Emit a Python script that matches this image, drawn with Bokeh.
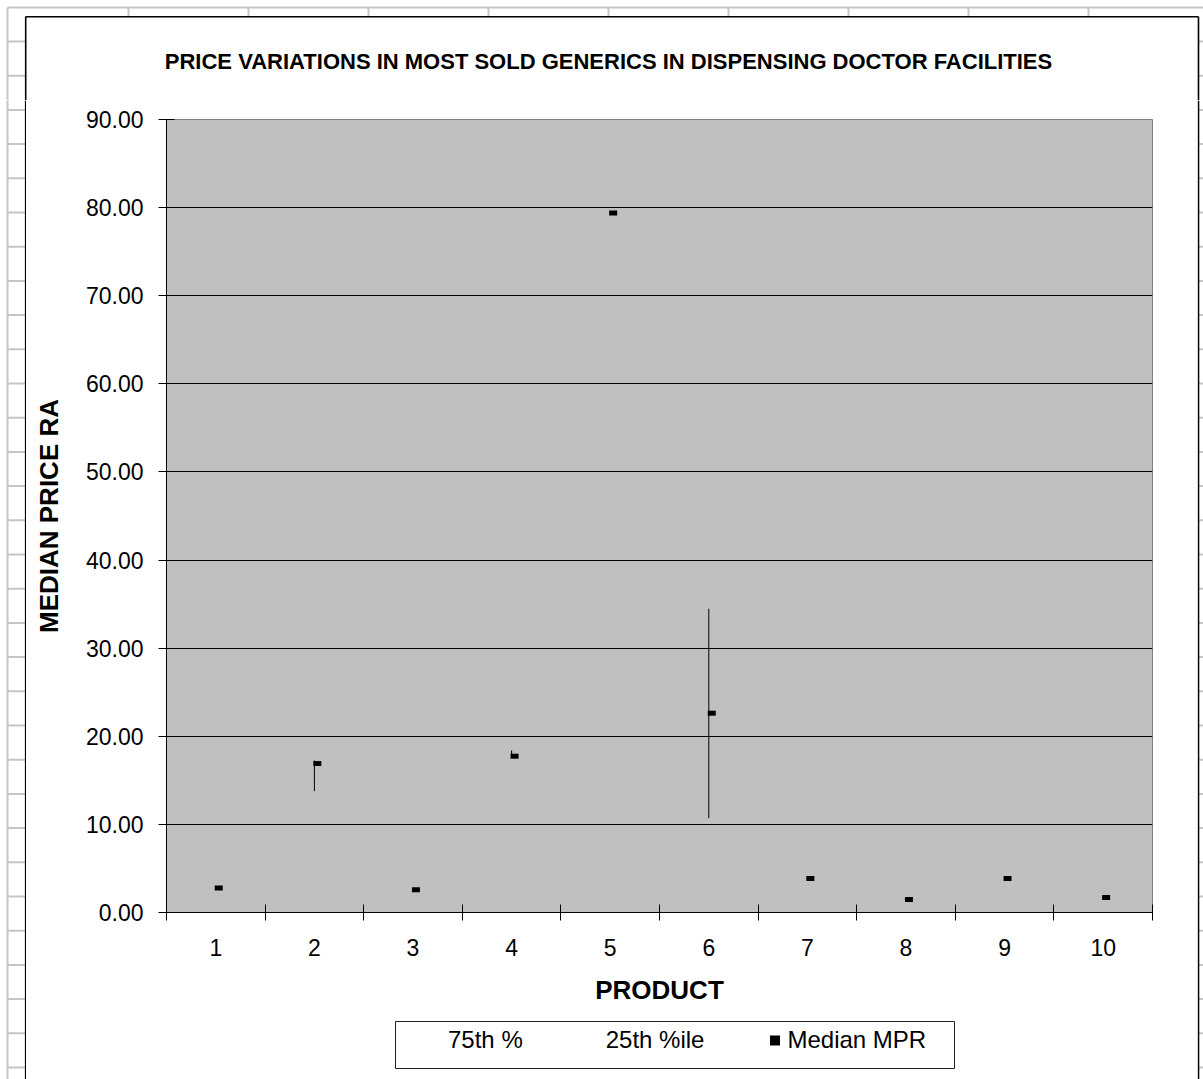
from bokeh.plotting import figure
from bokeh.layouts import column, row
from bokeh.models import (Range1d, FixedTicker, NumeralTickFormatter, Legend, LegendItem,
                          ColumnDataSource, Plot, Label)
from bokeh.transform import dodge
from bokeh.embed import file_html
from bokeh.resources import INLINE

# ---- data ----
products = ["1", "2", "3", "4", "5", "6", "7", "8", "9", "10"]
x_pos = [1, 2, 3, 4, 5, 6, 7, 8, 9, 10]
median_mpr = [2.78, 16.90, 2.58, 17.74, 79.40, 22.62, 3.86, 1.48, 3.86, 1.70]
pct75 = [2.90, 17.25, 2.65, 18.39, 79.50, 34.47, 3.95, 1.55, 3.95, 1.78]
pct25 = [2.70, 13.77, 2.50, 17.74, 79.30, 10.70, 3.78, 1.42, 3.78, 1.62]
y_ticks = [0, 10, 20, 30, 40, 50, 60, 70, 80, 90]
series_names = ["75th %", "25th %ile", "Median MPR"]

TITLE = "PRICE VARIATIONS IN MOST SOLD GENERICS IN DISPENSING DOCTOR FACILITIES"
FONT = "Liberation Sans"

W, H = 1203, 1079
TOP_H = 100         # strip above the plot figure (holds the chart title)
LEFT_W = 26         # strip left of the chart
RIGHT_W = 6         # strip right of the chart
MAIN_BOTTOM = 1015  # page y where the plot figure ends and the legend strip starts
MW = W - LEFT_W - RIGHT_W
MH = MAIN_BOTTOM - TOP_H
LH = H - MAIN_BOTTOM
FL, FR, FT, FB = 166, 1152, 119, 912   # plot-area edges on the page

HAS_FA = "frame_align" in Plot.properties()

def no_align(f):
    if HAS_FA:
        f.frame_align = False
    return f

src = ColumnDataSource(dict(x=x_pos, med=median_mpr, hi=pct75, lo=pct25))

p = figure(width=MW, height=MH, output_backend="svg", toolbar_location=None,
           x_range=Range1d(0.5, 10.5), y_range=Range1d(0, 90),
           min_border_left=FL - LEFT_W, min_border_right=(W - RIGHT_W) - FR,
           min_border_top=FT - TOP_H, min_border_bottom=MAIN_BOTTOM - FB)
no_align(p)

p.background_fill_color = "#C0C0C0"
p.border_fill_color = "white"
p.outline_line_color = "#808080"
p.outline_line_width = 1

# grid
p.xgrid.visible = False
p.ygrid.ticker = FixedTicker(ticks=y_ticks)
p.ygrid.grid_line_color = "black"
p.ygrid.grid_line_width = 1

# y axis
ya = p.yaxis[0]
ya.ticker = FixedTicker(ticks=y_ticks)
ya.formatter = NumeralTickFormatter(format="0.00")
ya.major_tick_in = 8
ya.major_tick_out = 8
ya.minor_tick_line_color = None
ya.axis_line_color = "black"
ya.major_tick_line_color = "black"
ya.major_label_standoff = 15
ya.major_label_text_font = FONT
ya.major_label_text_font_size = "23px"
ya.major_label_text_color = "black"
ya.axis_label = "MEDIAN PRICE RA"
ya.axis_label_text_font = FONT
ya.axis_label_text_font_size = "26px"
ya.axis_label_text_font_style = "bold"
ya.axis_label_text_color = "black"
ya.axis_label_standoff = 19

# x axis: labels at product centres, ticks at category boundaries
bounds = [i + 0.5 for i in range(0, 11)]
xa = p.xaxis[0]
xa.ticker = FixedTicker(ticks=x_pos, minor_ticks=bounds)
xa.major_label_overrides = {x: lab for x, lab in zip(x_pos, products)}
xa.major_tick_in = 0
xa.major_tick_out = 0
xa.minor_tick_in = 8
xa.minor_tick_out = 8
xa.minor_tick_line_color = "black"
xa.axis_line_color = "black"
xa.major_label_standoff = 18
xa.major_label_text_font = FONT
xa.major_label_text_font_size = "23px"
xa.major_label_text_color = "black"
xa.axis_label = "PRODUCT"
xa.axis_label_text_font = FONT
xa.axis_label_text_font_size = "26px"
xa.axis_label_text_font_style = "bold"
xa.axis_label_text_color = "black"
xa.axis_label_standoff = 16

# high-low lines (75th to 25th percentile)
p.segment(x0="x", y0="lo", x1="x", y1="hi", source=src, line_color="black", line_width=1)
# median markers
p.rect(x=dodge("x", 0.03, range=p.x_range), y="med", width=8, height=5,
       width_units="screen", height_units="screen", source=src,
       fill_color="black", line_color=None)

# ---- legend strip below the chart ----
leg = figure(width=MW, height=LH, output_backend="svg", toolbar_location=None,
             x_range=Range1d(LEFT_W, W - RIGHT_W), y_range=Range1d(H, MAIN_BOTTOM),
             x_axis_type=None, y_axis_type=None, min_border=0)
no_align(leg)
leg.outline_line_color = None
leg.background_fill_color = "white"
leg.border_fill_color = "white"
leg.quad(left=[395], right=[954], top=[1021], bottom=[1068],
         fill_color="white", line_color="#202020", line_width=1)
# series renderers for the legend entries (75th/25th have no markers in the chart)
l75 = leg.scatter("x", "hi", source=src, size=1, alpha=0)
l25 = leg.scatter("x", "lo", source=src, size=1, alpha=0)
lmed = leg.scatter("x", "med", source=src, marker="square", size=5,
                   fill_color="black", line_color=None)
legend = Legend(items=[LegendItem(label=series_names[0], renderers=[l75]),
                       LegendItem(label=series_names[1], renderers=[l25]),
                       LegendItem(label=series_names[2], renderers=[lmed])],
                orientation="horizontal", location=(397, 25), margin=0,
                glyph_width=25, glyph_height=28, label_standoff=0,
                spacing=58, padding=0,
                label_text_font=FONT, label_text_font_size="24px",
                label_text_color="black",
                border_line_color=None, background_fill_alpha=0)
leg.add_layout(legend)

# ---- spreadsheet cell grid around the chart (decoration) ----
GRID = "#C6C6C6"
col_lines = [128, 248, 368, 488, 608, 728, 848, 968, 1088]
row_lines = [41 + 34.2 * k for k in range(31)]

def strip(width, height, x0, x1, y0, y1):
    f = figure(width=width, height=height, output_backend="svg", toolbar_location=None,
               x_range=Range1d(x0, x1), y_range=Range1d(y1, y0),
               x_axis_type=None, y_axis_type=None, min_border=0)
    no_align(f)
    f.outline_line_color = None
    f.background_fill_color = "white"
    f.border_fill_color = "white"
    return f

def draw_rows(f, y0, y1):
    ys = [r for r in row_lines if y0 <= r <= y1]
    f.segment(x0=[7] * len(ys), y0=ys, x1=[25] * len(ys), y1=ys, line_color=GRID, line_width=2)
    f.segment(x0=[1198] * len(ys), y0=ys, x1=[W] * len(ys), y1=ys, line_color=GRID, line_width=2)
    f.segment(x0=[7], y0=[max(y0, 7)], x1=[7], y1=[y1], line_color=GRID, line_width=2)
    f.segment(x0=[25.2, 1198], y0=[max(y0, 16.2)] * 2, x1=[25.2, 1198], y1=[y1] * 2,
              line_color="black", line_width=1.6)

top = strip(W, TOP_H, 0, W, 0, TOP_H)
top.segment(x0=[7], y0=[7], x1=[W], y1=[7], line_color=GRID, line_width=2)
top.segment(x0=col_lines, y0=[7] * len(col_lines), x1=col_lines, y1=[16] * len(col_lines),
            line_color=GRID, line_width=2)
top.segment(x0=[25], y0=[16.2], x1=[1198], y1=[16.2], line_color="black", line_width=1.6)
draw_rows(top, 0, TOP_H)
top.add_layout(Label(x=608, y=61, text=TITLE, text_align="center", text_baseline="alphabetic",
                     text_font=FONT, text_font_size="22px", text_font_style="bold",
                     text_color="black"))

left = strip(LEFT_W, H - TOP_H, 0, LEFT_W, TOP_H, H)
draw_rows(left, TOP_H, H)

right = strip(RIGHT_W, H - TOP_H, W - RIGHT_W, W, TOP_H, H)
draw_rows(right, TOP_H, H)

page = column(top, row(left, column(p, leg, spacing=0), right, spacing=0), spacing=0)

open("out.html", "w").write(file_html(page, INLINE))
